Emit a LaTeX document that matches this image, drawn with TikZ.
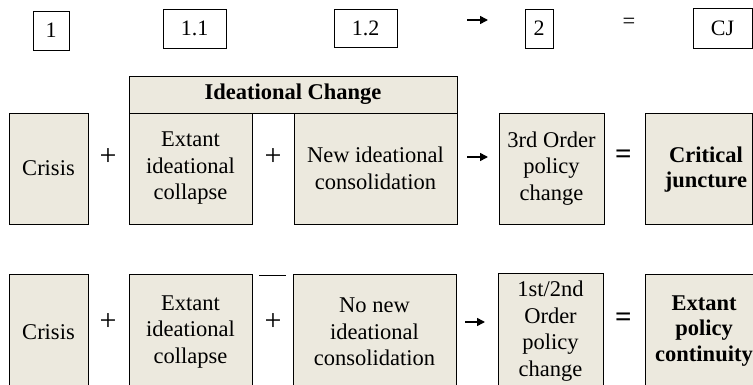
\documentclass[tikz,border=0pt]{standalone}
\usepackage{fontspec}
\setmainfont{Liberation Serif}
\usetikzlibrary{arrows.meta}
\definecolor{beige}{RGB}{236,233,222}
\tikzset{
  lbl/.style={draw=black,line width=0.8pt,fill=white,inner sep=0pt,align=center,
    font=\fontsize{22}{26}\selectfont},
  bx/.style={draw=black,line width=0.8pt,fill=beige,inner sep=0pt,align=center,
    font=\fontsize{22.5}{26.5}\selectfont},
  txt/.style={inner sep=0pt,align=center,font=\fontsize{22.5}{26.5}\selectfont},
  btxt/.style={inner sep=0pt,align=center,font=\fontsize{22.5}{25.5}\selectfont\bfseries},
  sym/.style={inner sep=0pt,font=\fontsize{30}{30}\selectfont},
  arr/.style={line width=1.6pt,-{Triangle[length=8pt,width=8pt]}}
}
\begin{document}
\begin{tikzpicture}[x=1pt,y=-1pt]
\useasboundingbox (0,0) rectangle (753,385);
\clip (0,0) rectangle (753,385);
% top labels
\node[lbl,minimum width=36pt,minimum height=39pt] (l1) at (51,30.5) {1};
\node[lbl,minimum width=63pt,minimum height=39pt] (l11) at (194.5,28.5) {1.1};
\node[lbl,minimum width=63pt,minimum height=38pt] (l12) at (365.5,28) {1.2};
\node[lbl,minimum width=28pt,minimum height=39pt] (l2) at (539,28.5) {2};
\node[lbl,minimum width=59pt,minimum height=40pt] (lcj) at (722.5,28) {CJ};
\coordinate (ta1) at (467,20);
\coordinate (ta2) at (488,20);
\draw[arr] (ta1) -- (ta2);
\node[txt] (teq) at (629,23) {=};
% row 1
\node[bx,minimum width=328pt,minimum height=37pt,font=\fontsize{22.5}{26.5}\selectfont\bfseries] (hdr) at (293,94.5) {Ideational Change};
\node[bx,minimum width=79pt,minimum height=111pt] (c1) at (48.5,168.5) {Crisis};
\node[bx,minimum width=123pt,minimum height=111pt] (e1) at (190.5,168.5) {Extant\\ideational\\collapse};
\node[bx,minimum width=163pt,minimum height=111pt] (n1) at (375.5,168.5) {New ideational\\consolidation};
\node[bx,minimum width=105pt,minimum height=111pt] (o1) at (551.5,168.5) {3rd Order\\policy\\change};
\node[bx,minimum width=107pt,minimum height=111pt] (r1) at (698.5,168.5) {};
\node[btxt] (r1t) at (706,169.5) {Critical\\juncture};
\node[sym] (p11) at (108,157) {+};
\node[sym] (p12) at (273,157) {+};
\coordinate (a1s) at (467,157);
\coordinate (a1e) at (488,157);
\draw[arr] (a1s) -- (a1e);
\node[sym,font=\fontsize{29}{29}\selectfont\bfseries] (q1) at (623.5,157) {=};
% row 2
\node[bx,minimum width=79pt,minimum height=116pt] (c2) at (48.5,332) {Crisis};
\node[bx,minimum width=123pt,minimum height=116pt] (e2) at (190.5,332) {Extant\\ideational\\collapse};
\node[bx,minimum width=163pt,minimum height=116pt] (n2) at (374.5,332) {No new\\ideational\\consolidation};
\node[bx,minimum width=105pt,minimum height=116pt] (o2) at (550.5,331) {1st/2nd\\Order\\policy\\change};
\node[bx,minimum width=120pt,minimum height=116pt] (r2) at (705,332) {};
\node[btxt] (r2t) at (704,331) {Extant\\policy\\continuity};
\node[sym] (p21) at (108,322) {+};
\node[sym] (p22) at (273,322) {+};
\coordinate (a2s) at (465,322);
\coordinate (a2e) at (485,322);
\draw[arr] (a2s) -- (a2e);
\node[sym,font=\fontsize{29}{29}\selectfont\bfseries] (q2) at (623.5,320) {=};
\coordinate (g1) at (259,275);
\coordinate (g2) at (286,275);
\draw[line width=0.8pt] (g1) -- (g2);
\end{tikzpicture}
\end{document}
